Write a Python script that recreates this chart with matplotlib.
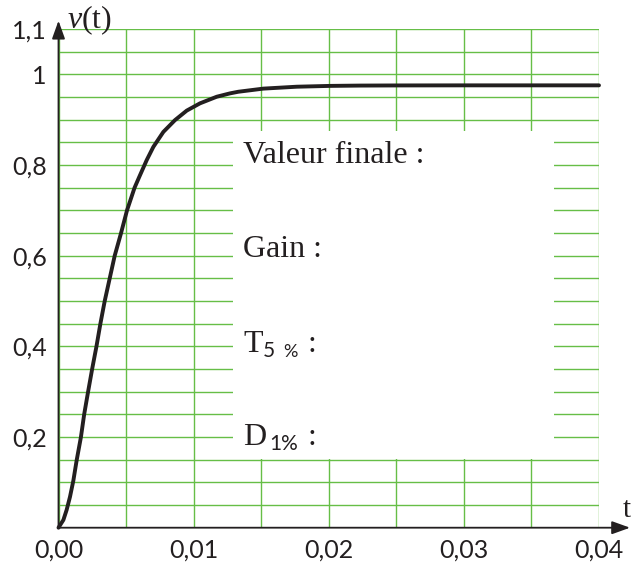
import matplotlib
matplotlib.use("Agg")
import matplotlib.pyplot as plt
from matplotlib.patches import Rectangle

# step response
t_pts = [0, 0.00004, 0.00036, 0.0006, 0.00085, 0.0011, 0.00134, 0.00166, 0.0019,
         0.00219, 0.00249, 0.00281, 0.0031, 0.00342, 0.00379, 0.00416, 0.00463,
         0.00507, 0.00563, 0.00598, 0.00653, 0.00702, 0.00776, 0.00862, 0.00949,
         0.01047, 0.01171, 0.01269, 0.01331, 0.01516, 0.01763, 0.02009, 0.0223,
         0.025, 0.03, 0.035, 0.04]
v_pts = [0, 0.002, 0.017, 0.039, 0.068, 0.104, 0.148, 0.20, 0.25, 0.30, 0.35, 0.40,
         0.45, 0.50, 0.55, 0.60, 0.65, 0.70, 0.75, 0.774, 0.811, 0.840, 0.873,
         0.899, 0.920, 0.936, 0.9506, 0.9580, 0.9616, 0.9685, 0.9727, 0.9745,
         0.9752, 0.9755, 0.9757, 0.9757, 0.9757]

x_ticks = [0.0, 0.01, 0.02, 0.03, 0.04]
x_labels = ["0,00", "0,01", "0,02", "0,03", "0,04"]
y_ticks = [0.2, 0.4, 0.6, 0.8, 1.0, 1.1]
y_labels = ["0,2", "0,4", "0,6", "0,8", "1", "1,1"]
answer_labels = ["Valeur finale :", "Gain :"]

plt.rcParams["mathtext.fontset"] = "custom"
plt.rcParams["mathtext.rm"] = "Liberation Serif"
plt.rcParams["mathtext.it"] = "Liberation Serif:italic"

INK = "#231f20"
GREEN = "#66be47"
SERIF = "Liberation Serif"
SANS = "Lato"

fig = plt.figure(figsize=(6.42, 5.65), dpi=100)
fig.patch.set_facecolor("white")
ax = fig.add_axes([58.5 / 642, (565 - 527.7) / 565, 540.5 / 642, 498.7 / 565])
ax.set_xlim(0, 0.04)
ax.set_ylim(0, 1.1)
for s in ax.spines.values():
    s.set_visible(False)

# green grid, every 0.005 s and every 0.05
ax.set_xticks(x_ticks)
ax.set_xticklabels(x_labels, fontsize=18, family=SANS, color=INK)
ax.set_xticks([0.005 * i for i in range(1, 9)], minor=True)
ax.set_yticks(y_ticks)
ax.set_yticklabels(y_labels, fontsize=18, family=SANS, color=INK)
ax.set_yticks([0.05 * i for i in range(1, 23)], minor=True)
ax.tick_params(which="both", length=0)
ax.tick_params(axis="x", pad=8)
ax.tick_params(axis="y", pad=8.5)
ax.set_axisbelow(True)
ax.grid(which="both", color=GREEN, lw=1.0)

# blank answer box over the grid
ax.add_patch(Rectangle((0.0129, 0.152), 0.0367 - 0.0129, 0.875 - 0.152,
                       facecolor="white", edgecolor="none", zorder=1.5))

ax.plot(t_pts, v_pts, color=INK, lw=2.8, solid_joinstyle="round",
        solid_capstyle="round", zorder=3, clip_on=False)

# axes with arrow heads
arrow = dict(arrowstyle="-|>,head_length=0.5,head_width=0.18", color=INK,
             lw=1.3, mutation_scale=22, shrinkA=0, shrinkB=0)
ax.annotate("", xy=(1.0574, 0), xytext=(0, 0), xycoords="axes fraction",
            textcoords="axes fraction", arrowprops=arrow, zorder=4)
ax.annotate("", xy=(0, 1.0166), xytext=(0, 0), xycoords="axes fraction",
            textcoords="axes fraction", arrowprops=arrow, zorder=4)

ax.text(0.0006, 1.102, r"$v$(t)", fontsize=23, family=SERIF, color=INK,
        va="baseline", ha="left", clip_on=False)
ax.text(0.04178, 0.024, "t", fontsize=21, family=SERIF, color=INK,
        va="baseline", ha="left", clip_on=False)

# labels in the box
x0 = 0.01365
for lab, yb in zip(answer_labels, [0.805, 0.598]):
    ax.text(x0, yb, lab, fontsize=23, family=SERIF, color=INK, va="baseline", zorder=4)
ax.text(x0, 0.388, "T", fontsize=23, family=SERIF, color=INK, va="baseline", zorder=4)
ax.text(0.01515, 0.3776, "5", fontsize=15, family=SANS, color=INK, va="baseline", zorder=4)
ax.text(0.0166, 0.3776, "%", fontsize=13, family=SANS, color=INK, va="baseline", zorder=4)
ax.text(0.01845, 0.388, ":", fontsize=23, family=SERIF, color=INK, va="baseline", zorder=4)
ax.text(x0, 0.1825, "D", fontsize=23, family=SERIF, color=INK, va="baseline", zorder=4)
ax.text(0.0156, 0.171, "1%", fontsize=15, family=SANS, color=INK, va="baseline", zorder=4)
ax.text(0.01845, 0.1825, ":", fontsize=23, family=SERIF, color=INK, va="baseline", zorder=4)

fig.savefig("out.png", dpi=100, facecolor="white")
